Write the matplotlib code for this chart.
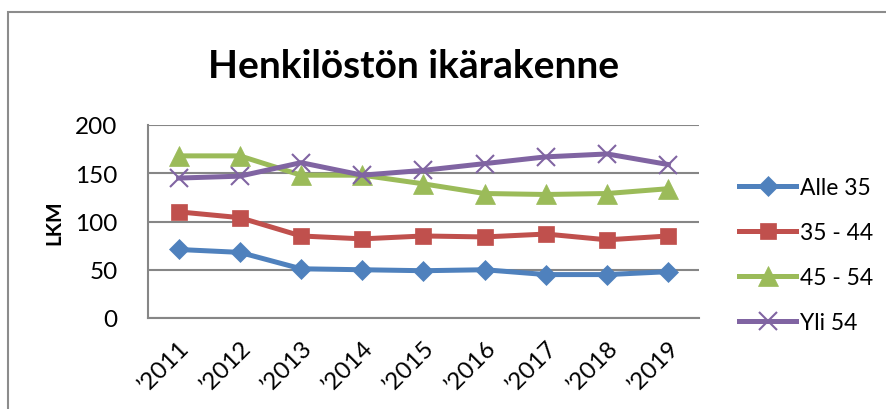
import numpy as np
from matplotlib import pyplot as plt
from matplotlib.patches import Rectangle

# data
years = ['’2011', '’2012', '’2013', '’2014', '’2015', '’2016', '’2017', '’2018', '’2019']
alle_35 = [71, 68, 51, 50, 49, 50, 45, 45, 48]
v35_44 = [110, 104, 85, 82, 85, 84, 87, 81, 85]
v45_54 = [168, 168, 148, 148, 139, 129, 128, 129, 134]
yli_54 = [145, 147, 161, 148, 153, 160, 167, 170, 159]
labels = ['Alle 35', '35 - 44', '45 - 54', 'Yli 54']

plt.rcParams['font.family'] = ['Lato', 'DejaVu Sans']

fig = plt.figure(figsize=(8.86, 4.10), dpi=100)
# outer chart border (cut at right and bottom like the screenshot)
fig.patches.append(Rectangle((8 / 886, -0.1), 1.2, 1 - 13 / 410 + 0.1,
                             transform=fig.transFigure, fill=False,
                             edgecolor='#8c8c8c', linewidth=1.5))

ax = fig.add_axes([148 / 886, 91 / 410, 551 / 886, 193 / 410])
x = np.arange(len(years))

series = [
    (alle_35, '#4F81BD', 'D', 10),
    (v35_44, '#C0504D', 's', 12),
    (v45_54, '#9BBB59', '^', 14),
    (yli_54, '#8064A2', 'x', 13),
]
for (vals, col, mk, ms), lab in zip(series, labels):
    ax.plot(x, vals, color=col, linewidth=3.6, marker=mk, markersize=ms,
            markeredgewidth=1.5 if mk == 'x' else 0.5, markeredgecolor=col,
            markerfacecolor=col, label=lab)

ax.set_xlim(-0.5, len(years) - 0.5)
ax.set_ylim(0, 200)
ax.set_yticks([0, 50, 100, 150, 200])
ax.yaxis.grid(True, color='#868686', linewidth=1.5)
ax.set_axisbelow(True)
for s in ['top', 'right']:
    ax.spines[s].set_visible(False)
for s in ['left', 'bottom']:
    ax.spines[s].set_color('#868686')
    ax.spines[s].set_linewidth(1.5)
ax.tick_params(length=0, labelsize=17.5, pad=22)
ax.tick_params(axis='x', pad=13)
ax.set_xticks(x)
ax.set_xticklabels(years, rotation=45, ha='right', va='top', rotation_mode='anchor')
ax.set_ylabel('LKM', fontsize=15, fontweight='bold', labelpad=8)

fig.text(414 / 886, 1 - 66 / 410, 'Henkilöstön ikärakenne', ha='center', va='center',
         fontsize=28, fontweight='bold')

fig.legend(loc='upper left', bbox_to_anchor=(730 / 886, 1 - 169 / 410), frameon=False,
           fontsize=16.5, handlelength=2.5, handletextpad=0.15, labelspacing=1.05,
           borderaxespad=0)

fig.savefig('out.png', dpi=100)
